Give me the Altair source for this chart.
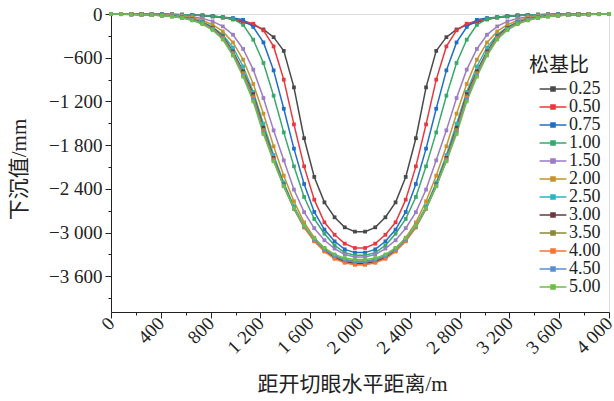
import altair as alt
import pandas as pd

# distance from the open-off cut (m)
X = [0, 81.63, 163.27, 244.9, 326.53, 408.16, 489.8, 571.43, 653.06, 734.69,
     816.33, 897.96, 979.59, 1061.22, 1142.86, 1224.49, 1306.12, 1387.76, 1469.39, 1551.02,
     1632.65, 1714.29, 1795.92, 1877.55, 1959.18, 2040.82, 2122.45, 2204.08, 2285.71, 2367.35,
     2448.98, 2530.61, 2612.24, 2693.88, 2775.51, 2857.14, 2938.78, 3020.41, 3102.04, 3183.67,
     3265.31, 3346.94, 3428.57, 3510.2, 3591.84, 3673.47, 3755.1, 3836.73, 3918.37, 4000]

S025 = [0, 0, -1, -2, -3, -4, -6, -9, -13, -19, -28, -45, -75, -112, -150, -212, -318, -506, -1007, -1705,
        -2236, -2585, -2790, -2928, -2987, -2987, -2928, -2790, -2585, -2236,
        -1705, -1007, -506, -318, -212, -150, -112, -75, -45, -28, -19, -13, -9, -6, -4, -3, -2, -1, 0, 0]
S050 = [0, 0, -1, -2, -3, -5, -7, -10, -15, -22, -33, -50, -70, -95, -133, -225, -445, -901, -1515, -2091,
        -2548, -2859, -3030, -3152, -3211, -3211, -3152, -3030, -2859, -2548,
        -2091, -1515, -901, -445, -225, -133, -95, -70, -50, -33, -22, -15, -10, -7, -5, -3, -2, -1, 0, 0]
S075 = [0, 0, -1, -2, -3, -5, -7, -10, -15, -22, -32, -45, -55, -80, -178, -390, -774, -1300, -1848, -2333,
        -2717, -2959, -3120, -3230, -3275, -3275, -3230, -3120, -2959, -2717,
        -2333, -1848, -1300, -774, -390, -178, -80, -55, -45, -32, -22, -15, -10, -7, -5, -3, -2, -1, 0, 0]
S100 = [0, 0, -1, -2, -3, -5, -7, -10, -15, -22, -32, -45, -68, -150, -353, -672, -1121, -1625, -2091, -2511,
        -2813, -3015, -3175, -3275, -3310, -3310, -3275, -3175, -3015, -2813,
        -2511, -2091, -1625, -1121, -672, -353, -150, -68, -45, -32, -22, -15, -10, -7, -5, -3, -2, -1, 0, 0]
S150 = [0, -1, -2, -3, -5, -8, -13, -22, -38, -62, -101, -170, -284, -480, -764, -1153, -1597, -2008, -2410, -2720,
        -2940, -3105, -3220, -3300, -3335, -3335, -3300, -3220, -3105, -2940,
        -2720, -2410, -2008, -1597, -1153, -764, -480, -284, -170, -101, -62, -38, -22, -13, -8, -5, -3, -2, -1, 0]
S200 = [0, -1, -3, -5, -8, -12, -19, -31, -52, -90, -147, -239, -390, -627, -961, -1368, -1816, -2219, -2570, -2860,
        -3070, -3220, -3330, -3400, -3440, -3440, -3400, -3330, -3220, -3070,
        -2860, -2570, -2219, -1816, -1368, -961, -627, -390, -239, -147, -90, -52, -31, -19, -12, -8, -5, -3, -1, 0]
S250 = [0, -2, -4, -7, -11, -17, -27, -42, -68, -110, -178, -285, -460, -720, -1070, -1505, -1935, -2312, -2640, -2900,
        -3090, -3230, -3320, -3380, -3405, -3405, -3380, -3320, -3230, -3090,
        -2900, -2640, -2312, -1935, -1505, -1070, -720, -460, -285, -178, -110, -68, -42, -27, -17, -11, -7, -4, -2, 0]
S300 = [0, -2, -5, -8, -12, -19, -29, -46, -73, -118, -192, -307, -513, -786, -1100, -1560, -1976, -2340, -2660, -2920,
        -3110, -3250, -3345, -3400, -3425, -3425, -3400, -3345, -3250, -3110,
        -2920, -2660, -2340, -1976, -1560, -1100, -786, -513, -307, -192, -118, -73, -46, -29, -19, -12, -8, -5, -2, 0]
S350 = [0, -2, -5, -8, -13, -20, -31, -48, -77, -124, -200, -320, -530, -810, -1130, -1590, -1995, -2350, -2665, -2915,
        -3100, -3230, -3320, -3370, -3390, -3390, -3370, -3320, -3230, -3100,
        -2915, -2665, -2350, -1995, -1590, -1130, -810, -530, -320, -200, -124, -77, -48, -31, -20, -13, -8, -5, -2, 0]
S400 = [0, -2, -5, -9, -13, -21, -32, -50, -80, -128, -205, -330, -545, -825, -1150, -1610, -2005, -2360, -2675, -2930,
        -3120, -3260, -3360, -3415, -3440, -3440, -3415, -3360, -3260, -3120,
        -2930, -2675, -2360, -2005, -1610, -1150, -825, -545, -330, -205, -128, -80, -50, -32, -21, -13, -9, -5, -2, 0]
S450 = [0, -3, -6, -9, -14, -22, -33, -52, -83, -132, -210, -338, -555, -840, -1170, -1625, -2012, -2362, -2670, -2915,
        -3095, -3230, -3320, -3375, -3400, -3400, -3375, -3320, -3230, -3095,
        -2915, -2670, -2362, -2012, -1625, -1170, -840, -555, -338, -210, -132, -83, -52, -33, -22, -14, -9, -6, -3, 0]
S500 = [0, -3, -6, -10, -15, -23, -35, -55, -88, -140, -220, -350, -570, -860, -1200, -1647, -2021, -2365, -2665, -2905,
        -3080, -3210, -3300, -3350, -3370, -3370, -3350, -3300, -3210, -3080,
        -2905, -2665, -2365, -2021, -1647, -1200, -860, -570, -350, -220, -140, -88, -55, -35, -23, -15, -10, -6, -3, 0]

NAMES = ["0.25", "0.50", "0.75", "1.00", "1.50", "2.00", "2.50", "3.00", "3.50", "4.00", "4.50", "5.00"]
SERIES = [S025, S050, S075, S100, S150, S200, S250, S300, S350, S400, S450, S500]
COLORS = ["#4a4a4a", "#e8383d", "#1f6fc6", "#3aa86b", "#9b7cc6", "#c8922e",
          "#26b8c4", "#6b3a3c", "#8a8a3a", "#f47536", "#5b8fd2", "#6cbf4a"]

rows = []
for name, vals in zip(NAMES, SERIES):
    for xv, yv in zip(X, vals):
        rows.append({"x": xv, "y": yv, "ratio": name})
df = pd.DataFrame(rows)

FONT = "Liberation Serif, Noto Sans CJK SC"

x_axis = alt.Axis(
    values=list(range(0, 4001, 200)),
    labelExpr="datum.value % 400 == 0 ? replace(format(datum.value, ','), ',', ' ') : ''",
    tickSize={"condition": {"test": "datum.value % 400 != 0", "value": 3}, "value": 6},
    labelAngle=315, labelAlign="right", labelBaseline="middle", labelPadding=2,
    labelFont=FONT, labelFontSize=19, labelColor="#222",
    title="距开切眼水平距离/m", titleFont=FONT, titleFontSize=21, titleFontWeight="normal",
    titleColor="#222", titleX=241, titleY=72, titleAnchor="middle", titleBaseline="middle",
    domainColor="#222", tickColor="#222", grid=False, labelFlush=False, labelOverlap=False,
)
y_axis = alt.Axis(
    values=list(range(0, -4000, -300)),
    labelExpr="datum.value % 600 == 0 ? replace(format(datum.value, ','), ',', ' ') : ''",
    tickSize={"condition": {"test": "datum.value % 600 != 0", "value": 3}, "value": 6},
    labelFont=FONT, labelFontSize=19, labelColor="#222", labelPadding=3,
    title="下沉值/mm", titleFont=FONT, titleFontSize=21, titleFontWeight="normal",
    titleColor="#222", titleX=-92, titleY=155, titleAnchor="middle", titleBaseline="middle",
    domainColor="#222", tickColor="#222", grid=False, labelFlush=False, labelOverlap=False,
)

xenc = alt.X("x:Q", scale=alt.Scale(domain=[0, 4000], nice=False, zero=False), axis=x_axis)
yenc = alt.Y("y:Q", scale=alt.Scale(domain=[-4090, 0], nice=False), axis=y_axis)
cenc = alt.Color(
    "ratio:N", sort=NAMES,
    scale=alt.Scale(domain=NAMES, range=COLORS),
    legend=alt.Legend(
        title="松基比", orient="none", legendX=418, legendY=42,
        titleFont=FONT, titleFontSize=20, titleFontWeight="normal", titleColor="#222",
        labelFont=FONT, labelFontSize=18, labelColor="#222",
        symbolType="M-1.85,0H1.85M-0.28,-0.28H0.28V0.28H-0.28Z", symbolSize=210,
        symbolStrokeWidth=1.5, symbolOpacity=1, rowPadding=0, labelOffset=7,
        symbolOffset=15, titlePadding=4,
    ),
)

lines = alt.Chart(df).mark_line(strokeWidth=1.5).encode(x=xenc, y=yenc, color=cenc)
points = alt.Chart(df).mark_point(shape="square", filled=True, size=14, opacity=1).encode(
    x=xenc, y=yenc, color=cenc)

chart = alt.layer(lines, points).properties(
    width=498, height=298,
    autosize=alt.AutoSizeParams(type="none"),
    padding={"left": 111, "top": 14, "right": 5, "bottom": 89},
).configure_view(stroke=None).configure(background="white")

chart.save("out.html", embed_options={"renderer": "svg", "actions": False})
